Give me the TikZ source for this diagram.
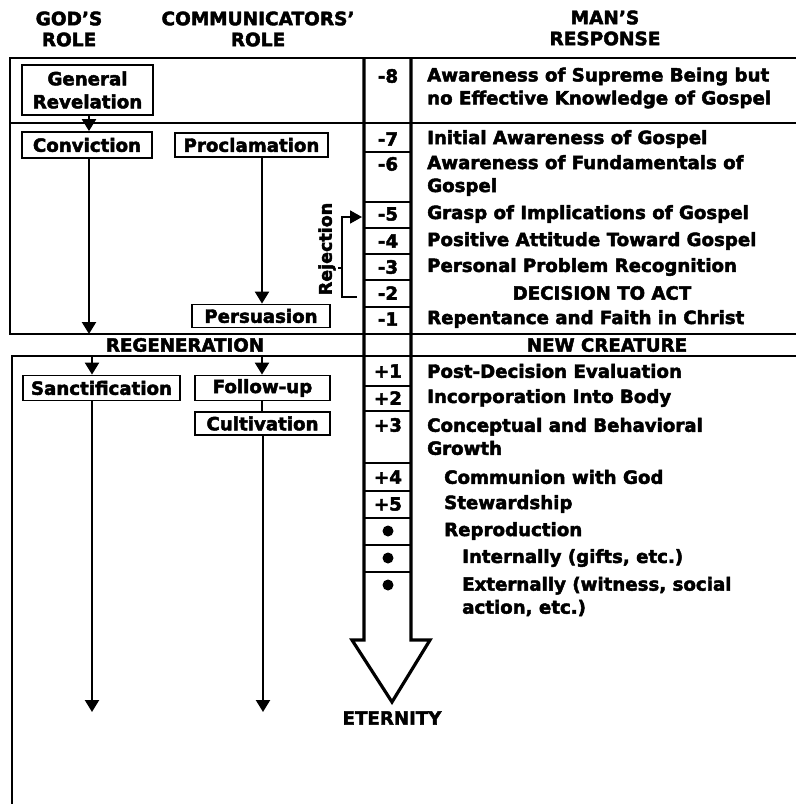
\documentclass[tikz,border=0pt]{standalone}
\usepackage{fontspec}
\setmainfont{DejaVu Sans}[BoldFeatures={FakeBold=2.5}]
\usetikzlibrary{arrows.meta}
\begin{document}
\begin{tikzpicture}[x=1pt,y=-1pt,
  txt/.style={font=\fontsize{18.2}{23}\selectfont\bfseries, inner sep=0pt},
  lbl/.style={txt, anchor=west, align=left},
  num/.style={txt},
  hdr/.style={font=\fontsize{18.5}{21}\selectfont\bfseries, inner sep=0pt, align=center},
  rolebox/.style={draw, line width=1.8pt, txt, inner sep=0pt, align=center},
  frame/.style={line width=2.6pt},
  col/.style={line width=3.2pt},
  cell/.style={line width=1.7pt},
  conn/.style={line width=2.2pt, -{Triangle[width=14pt,length=12pt]}},
  plain/.style={line width=2.2pt},
  dot/.style={circle, fill, inner sep=0pt, minimum size=11pt},
]
\useasboundingbox (0,0) rectangle (796,804);

% headers
\node[hdr] (hgod) at (69,29) {GOD'S\\ROLE};
\node[hdr] (hcom) at (258,29) {COMMUNICATORS'\\ROLE};
\node[hdr] (hman) at (605,28) {MAN'S\\RESPONSE};

% frame
\draw[frame] (10,58) -- (796,58);
\draw[frame] (10,123) -- (796,123);
\draw[frame] (10,334) -- (796,334);
\draw[frame] (12,356) -- (796,356);
\draw[frame] (10,57) -- (10,335);
\draw[frame] (12,355) -- (12,804);

% column with big arrow
\draw[col] (364,58) -- (364,640) -- (352,640) -- (392,702) -- (430,640) -- (411,640) -- (411,58);
\foreach \y in {152,202,228,254,280,307,386,411,463,491,518,545,572}
  \draw[cell] (364,\y) -- (411,\y);

% numbers
\node[num] (m8) at (388,76) {-8};
\node[num] (m7) at (388,139) {-7};
\node[num] (m6) at (388,164) {-6};
\node[num] (m5) at (388,214) {-5};
\node[num] (m4) at (388,241) {-4};
\node[num] (m3) at (388,267) {-3};
\node[num] (m2) at (388,293) {-2};
\node[num] (m1) at (388,319) {-1};
\node[num] (p1) at (388,371) {+1};
\node[num] (p2) at (388,398) {+2};
\node[num] (p3) at (388,425) {+3};
\node[num] (p4) at (388,477) {+4};
\node[num] (p5) at (388,504) {+5};
\node[dot] (b1) at (388,531) {};
\node[dot] (b2) at (388,558) {};
\node[dot] (b3) at (388,585) {};

% responses
\node[lbl] (r8) at (427,88) {Awareness of Supreme Being but\\no Effective Knowledge of Gospel};
\node[lbl] (r7) at (427,139) {Initial Awareness of Gospel};
\node[lbl] (r6) at (427,175.5) {Awareness of Fundamentals of\\Gospel};
\node[lbl] (r5) at (427,214) {Grasp of Implications of Gospel};
\node[lbl] (r4) at (427,241) {Positive Attitude Toward Gospel};
\node[lbl] (r3) at (427,267) {Personal Problem Recognition};
\node[txt] (r2) at (602,293) {DECISION TO ACT};
\node[lbl] (r1) at (427,319) {Repentance and Faith in Christ};
\node[txt] (newc) at (607,345) {NEW CREATURE};
\node[lbl] (q1) at (427,371) {Post-Decision Evaluation};
\node[lbl] (q2) at (427,398) {Incorporation Into Body};
\node[lbl] (q3) at (427,436.5) {Conceptual and Behavioral\\Growth};
\node[lbl] (q4) at (444,477) {Communion with God};
\node[lbl] (q5) at (444,504) {Stewardship};
\node[lbl] (q6) at (444,531) {Reproduction};
\node[lbl] (q7) at (462,558) {Internally (gifts, etc.)};
\node[lbl] (q8) at (462,596.5) {Externally (witness, social\\action, etc.)};

\node[txt] (eter) at (392,718) {ETERNITY};
\node[txt] (regen) at (185,345) {REGENERATION};

% role boxes
\node[rolebox, minimum width=131pt, minimum height=50pt] (genrev) at (87.5,90) {General\\Revelation};
\node[rolebox, minimum width=130pt, minimum height=26pt] (conv) at (87,145) {Conviction};
\node[rolebox, minimum width=153pt, minimum height=24pt] (procl) at (251.5,145) {Proclamation};
\node[rolebox, minimum width=138pt, minimum height=23pt] (pers) at (261,316) {Persuasion};
\node[rolebox, minimum width=157pt, minimum height=25pt] (sanct) at (101.5,388) {Sanctification};
\node[rolebox, minimum width=135pt, minimum height=25pt] (follow) at (262.5,388) {Follow-up};
\node[rolebox, minimum width=135pt, minimum height=23pt] (cult) at (262.5,423.5) {Cultivation};

% connectors
\coordinate (xg) at (89,0);
\coordinate (xc) at (262,0);
\coordinate (regtop) at (89,334);
\coordinate (ls) at (92,356);
\coordinate (lc) at (262,356);
\coordinate (ends) at (92,712);
\coordinate (endc) at (263,712);
\draw[conn] (genrev.south -| xg) -- (conv.north -| xg);
\draw[conn] (conv.south -| xg) -- (regtop);
\draw[conn] (procl.south -| xc) -- (pers.north -| xc);
\draw[conn] (ls) -- (sanct.north -| ls);
\draw[conn] (lc) -- (follow.north -| lc);
\draw[plain] (follow.south -| lc) -- (cult.north -| lc);
\draw[conn] (sanct.south -| ends) -- (ends);
\draw[conn] (cult.south -| endc) -- (endc);

% rejection loop
\node[txt, rotate=90, font=\fontsize{17.5}{20}\selectfont\bfseries] (rej) at (327,249) {Rejection};
\coordinate (rb) at (357,297);
\coordinate (rt) at (362,217);
\coordinate (rtick) at (338,268);
\draw[line width=1.8pt, -{Triangle[width=13pt,length=12pt]}] (rb) -- (342,297) -- (342,217) -- (rt);
\draw[line width=1.8pt] (342,268) -- (rtick);
\end{tikzpicture}
\end{document}
